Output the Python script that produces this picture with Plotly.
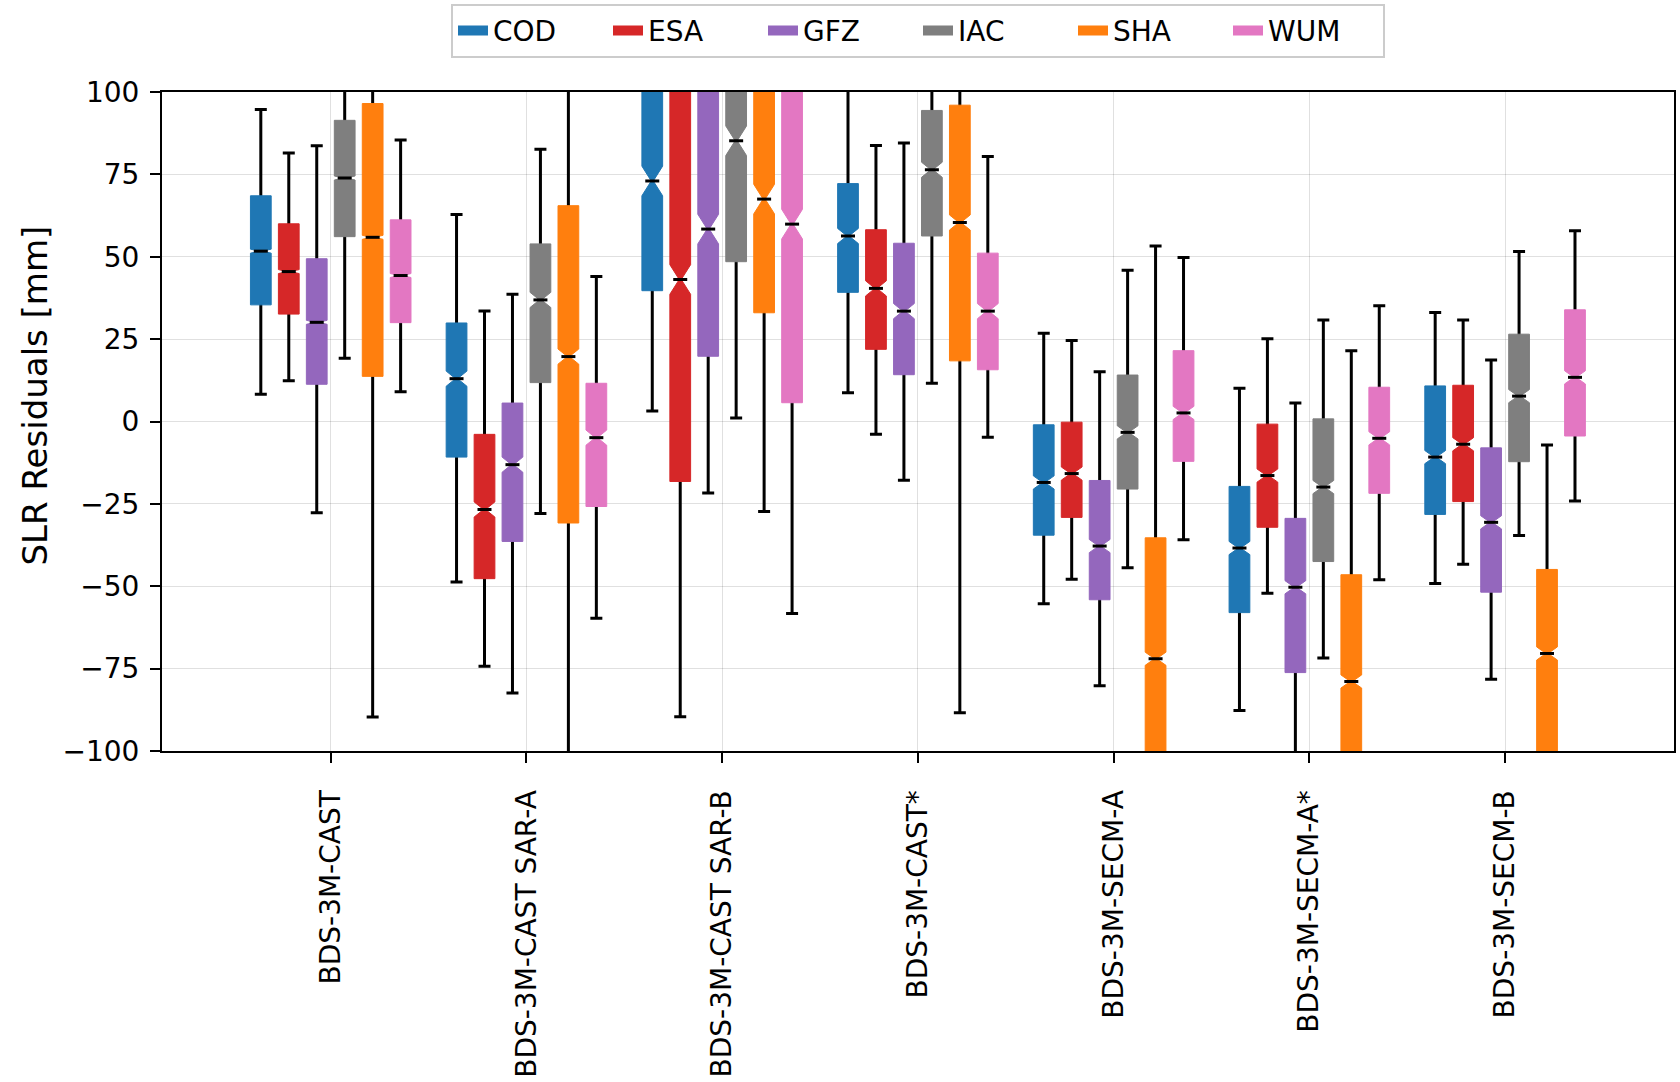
import plotly.graph_objects as go

# ---------------- data ----------------
categories = ["BDS-3M-CAST", "BDS-3M-CAST SAR-A", "BDS-3M-CAST SAR-B", "BDS-3M-CAST*",
              "BDS-3M-SECM-A", "BDS-3M-SECM-A*", "BDS-3M-SECM-B"]
series = ["COD", "ESA", "GFZ", "IAC", "SHA", "WUM"]
colors = ["#1f77b4", "#d62728", "#9467bd", "#7f7f7f", "#ff7f0e", "#e377c2"]

lower_whisker = {
    "COD": [8.3, -48.7, 3.2, 8.7, -55.3, -87.7, -49.2],
    "ESA": [12.4, -74.3, -89.6, -3.9, -47.9, -52.1, -43.3],
    "GFZ": [-27.7, -82.4, -21.7, -17.8, -80.2, -110, -78.2],
    "IAC": [19.2, -27.9, 1.1, 11.6, -44.4, -71.8, -34.6],
    "SHA": [-89.7, -140, -27.3, -88.4, -150, -160, -145],
    "WUM": [9.0, -59.7, -58.3, -4.8, -35.9, -48.0, -24.1],
}
q1 = {
    "COD": [35.4, -10.8, 39.7, 39.2, -34.5, -58.0, -28.2],
    "ESA": [32.6, -47.7, -18.2, 21.9, -29.1, -32.1, -24.3],
    "GFZ": [11.3, -36.4, 19.8, 14.2, -54.1, -76.2, -51.8],
    "IAC": [56.1, 11.8, 48.5, 56.3, -20.5, -42.5, -12.2],
    "SHA": [13.7, -30.8, 33.0, 18.4, -110, -115, -105],
    "WUM": [30.0, -25.8, 5.7, 15.7, -12.1, -21.8, -4.4],
}
median = {
    "COD": [51.7, 13.0, 73.0, 56.3, -18.5, -38.4, -10.8],
    "ESA": [45.5, -26.7, 43.1, 40.4, -15.8, -16.4, -6.9],
    "GFZ": [30.1, -13.1, 58.4, 33.5, -37.8, -50.3, -30.6],
    "IAC": [73.9, 36.9, 85.2, 76.4, -3.3, -19.9, 7.7],
    "SHA": [55.9, 19.7, 67.5, 60.4, -72.0, -78.9, -70.4],
    "WUM": [44.3, -4.9, 59.9, 33.5, 2.6, -5.1, 13.4],
}
q3 = {
    "COD": [68.5, 29.9, 108, 72.2, -1.0, -19.7, 10.8],
    "ESA": [60.0, -3.9, 125, 58.2, -0.2, -0.8, 11.0],
    "GFZ": [49.4, 5.6, 110, 54.1, -17.9, -29.4, -8.0],
    "IAC": [91.4, 53.9, 105, 94.4, 14.1, 0.8, 26.5],
    "SHA": [96.5, 65.5, 110, 96.0, -35.3, -46.5, -44.9],
    "WUM": [61.2, 11.6, 118, 51.1, 21.5, 10.4, 33.9],
}
upper_whisker = {
    "COD": [94.7, 62.8, 150, 110, 26.8, 10.1, 33.1],
    "ESA": [81.5, 33.5, 190, 83.8, 24.6, 25.1, 30.8],
    "GFZ": [83.7, 38.6, 160, 84.5, 15.1, 5.6, 18.7],
    "IAC": [110, 82.6, 140, 115, 45.9, 30.8, 51.6],
    "SHA": [130, 125, 160, 125, 53.3, 21.5, -7.1],
    "WUM": [85.4, 44.0, 175, 80.4, 49.8, 35.1, 57.9],
}
# half-span of the notch around the median, per category
notch_halfspan = [0.6, 2.3, 4.5, 2.3, 2.0, 2.0, 2.0]

y_ticks = [-100, -75, -50, -25, 0, 25, 50, 75, 100]
y_ticktext = [str(v).replace("-", "\u2212") for v in y_ticks]
y_title = "SLR Residuals [mm]"

# ---------------- styling ----------------
FONT = "DejaVu Sans"
slot = 1.0 / 7.0
box_w = 0.106
grid_c = "rgba(0,0,0,0.12)"
n_cat = len(categories)
n_ser = len(series)

fig = go.Figure()

# legend entries (matplotlib-like patch handles)
for s, c in zip(series, colors):
    fig.add_trace(go.Scatter(x=[None], y=[None], mode="lines", name=s,
                             line=dict(color=c, width=10)))

# whiskers with caps (beneath the boxes)
for i, s in enumerate(series):
    xpos = [k + (i - (n_ser - 1) / 2) * slot for k in range(n_cat)]
    fig.add_trace(go.Scatter(
        x=xpos, y=median[s], mode="markers", showlegend=False, hoverinfo="skip",
        marker=dict(size=1, color="rgba(0,0,0,0)"),
        error_y=dict(type="data", symmetric=False,
                     array=[u - m for u, m in zip(upper_whisker[s], median[s])],
                     arrayminus=[m - l for m, l in zip(median[s], lower_whisker[s])],
                     color="black", thickness=3, width=6),
    ))

# notched boxes + black medians (overlay axes, drawn above whiskers)
for i, (s, c) in enumerate(zip(series, colors)):
    xpos = [k + (i - (n_ser - 1) / 2) * slot for k in range(n_cat)]
    fig.add_trace(go.Box(
        x=xpos, q1=q1[s], median=median[s], q3=q3[s],
        lowerfence=q1[s], upperfence=q3[s],
        notched=True, notchspan=notch_halfspan, notchwidth=0.45,
        width=box_w, fillcolor=c, line=dict(color=c, width=1), whiskerwidth=0,
        boxpoints=False, showlegend=False, hoverinfo="skip",
        xaxis="x2", yaxis="y2",
    ))
    fig.add_trace(go.Scatter(
        x=xpos, y=median[s], mode="markers", showlegend=False, hoverinfo="skip",
        marker=dict(symbol="line-ew", size=10, line=dict(color="black", width=3)),
        xaxis="x2", yaxis="y2",
    ))

x_range = [-0.862, 6.863]
y_range = [-100, 100]

fig.update_layout(
    width=1680, height=1082,
    margin=dict(l=162, r=4, t=92, b=329),
    paper_bgcolor="white", plot_bgcolor="white",
    font=dict(family=FONT, size=28, color="black"),
    showlegend=True,
    legend=dict(orientation="h", x=0.5, xanchor="center", y=1.134, yanchor="top",
                bgcolor="white", bordercolor="#cccccc", borderwidth=2,
                font=dict(family=FONT, size=28), itemwidth=30,
                entrywidth=110, entrywidthmode="pixels"),
    xaxis=dict(range=x_range, tickmode="array", tickvals=list(range(n_cat)), ticktext=categories,
               tickangle=-90, ticks="outside", ticklen=10, tickwidth=2, tickcolor="black",
               ticklabelstandoff=16,
               showline=True, mirror=True, linecolor="black", linewidth=2,
               showgrid=True, gridcolor=grid_c, gridwidth=1.3, zeroline=False,
               tickfont=dict(family=FONT, size=28)),
    yaxis=dict(range=y_range, tickmode="array", tickvals=y_ticks, ticktext=y_ticktext,
               ticks="outside", ticklen=10, tickwidth=2, tickcolor="black",
               ticklabelstandoff=5,
               showline=True, mirror=True, linecolor="black", linewidth=2,
               showgrid=True, gridcolor=grid_c, gridwidth=1.3, zeroline=False,
               tickfont=dict(family=FONT, size=28)),
    xaxis2=dict(overlaying="x", range=x_range, visible=False),
    yaxis2=dict(overlaying="y", range=y_range, visible=False),
    annotations=[dict(text=y_title, textangle=-90, xref="paper", yref="paper",
                      x=-0.084, y=0.5395, xanchor="center", yanchor="middle",
                      showarrow=False, font=dict(family=FONT, size=34, color="black"))],
)

fig.write_html("out.html")
